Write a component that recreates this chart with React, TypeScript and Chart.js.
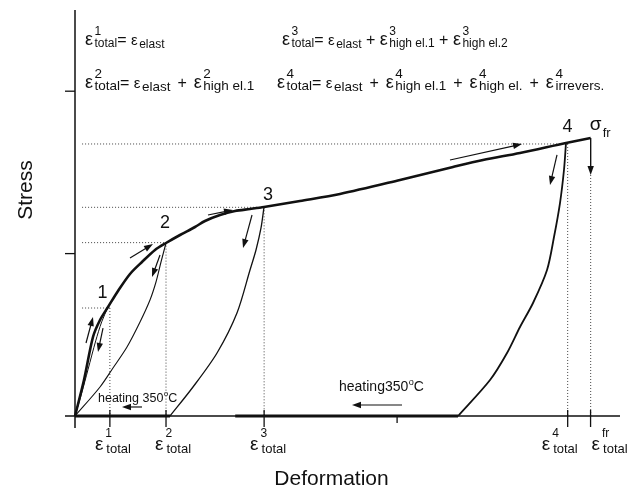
import React, { useEffect, useRef } from "react";
import { Chart, registerables } from "chart.js";
Chart.register(...registerables);

const FONT = '"Liberation Sans", Arial, Helvetica, sans-serif';

// ---------- data (deformation, stress) in arbitrary units 0..100 ----------
const loadingX = [0, 1.65, 3.3, 4.59, 6.06, 7.89, 10.09, 12.29, 14.68, 16.7, 19.27, 22.02, 23.85, 26.61, 29.36, 32.11, 34.68, 41.28, 48.62, 59.63, 69.36, 74.86, 81.65, 90.09, 94.62];
const loadingY = [0, 8.87, 19.46, 23.65, 26.85, 30.79, 34.98, 37.93, 40.89, 42.61, 44.58, 46.55, 48.03, 49.51, 50.49, 50.99, 51.48, 52.96, 54.68, 58.13, 61.33, 63.05, 64.78, 67.24, 68.47];

const unload1X = [6.06, 4.9, 3.8, 2.4, 1.2, 0];
const unload1Y = [26.85, 23.2, 18.5, 11.5, 5.5, 0];
const unload2X = [16.7, 15.78, 14.86, 13.76, 11.93, 9.54, 6.97, 4.59, 0];
const unload2Y = [42.61, 37.93, 33.0, 28.57, 23.15, 16.99, 11.82, 7.14, 0];
const unload3X = [34.68, 34.13, 33.21, 32.11, 29.72, 26.06, 21.65, 17.43];
const unload3Y = [51.48, 46.31, 40.89, 35.96, 25.37, 15.52, 7.14, 0];
const unload4X = [90.09, 89.72, 88.99, 87.89, 86.61, 84.04, 81.65, 79.27, 76.15, 70.28];
const unload4Y = [67.24, 60.59, 52.46, 44.09, 35.96, 27.83, 21.92, 15.52, 8.87, 0];

const heating1X = [0, 17.43];
const heating1Y = [0, 0];
const heating2X = [29.4, 70.28];
const heating2Y = [0, 0];

// reference states 1..4
const stateX = [6.4, 16.7, 34.7, 90.4];
const stateY = [26.6, 42.7, 51.4, 67.0];
const stateLabels = ["1", "2", "3", "4"];
const stateLabelX = [5.05, 16.51, 35.41, 90.37];
const stateLabelY = [29.06, 46.31, 53.2, 69.95];

const fractureX = 94.62;
const fractureY = 68.47;
const fractureArrowEndY = 59.36;

// axis ticks
const xTickValues = [0, 6.4, 16.7, 34.7, 59.1, 90.4, 94.6];
const yTickValues = [40, 80];
const xTickLabelAt = [6.4, 16.7, 34.7, 90.4, 94.6];
const xTickLabelSup = ["1", "2", "3", "4", "fr"];
const xTickLabelSub = ["total", "total", "total", "total", "total"];

// direction arrows
const arrowStartX = [2.02, 5.14, 10.09, 15.6, 24.4, 32.48, 68.81, 88.44, 12.29, 60.0];
const arrowStartY = [17.98, 21.67, 38.92, 39.66, 49.51, 49.51, 63.05, 64.29, 2.22, 2.71];
const arrowEndX = [3.3, 4.22, 14.31, 14.13, 28.99, 30.83, 82.02, 87.16, 8.62, 50.83];
const arrowEndY = [24.38, 15.76, 42.36, 34.24, 50.74, 41.38, 67.0, 56.9, 2.22, 2.71];

// heating annotations
const heatingText = ["heating 350", "heating350"];
const heatingX = [4.22, 48.44];
const heatingY = [3.45, 6.16];

// formulas: [base, sup, sub]
type Tok = [string, string?, string?];
const formulaTopLeft: Tok[] = [["ε", "1", "total"], ["= "], ["ε", "", "elast"]];
const formulaTopRight: Tok[] = [["ε", "3", "total"], ["= "], ["ε", "", "elast"], [" + "], ["ε", "3", "high el.1"], [" + "], ["ε", "3", "high el.2"]];
const formulaBottomLeft: Tok[] = [["ε", "2", "total"], ["= "], ["ε", "", "elast"], [" + "], ["ε", "2", "high el.1"]];
const formulaBottomRight: Tok[] = [["ε", "4", "total"], ["= "], ["ε", "", "elast"], [" + "], ["ε", "4", "high el.1"], [" + "], ["ε", "4", "high el."], [" + "], ["ε", "4", "irrevers."]];

const pts = (xs: number[], ys: number[]) => xs.map((x, i) => ({ x, y: ys[i] }));

type FStyle = { eps: number; small: number; op: number; sub: number; pad: number };

function drawFormula(ctx: CanvasRenderingContext2D, x0: number, y: number, toks: Tok[], st: FStyle) {
  let x = x0;
  for (const [base, sup, sub] of toks) {
    const isEps = base === "ε";
    const size = isEps ? (sub === "elast" ? st.small : st.eps) : st.op;
    ctx.font = `${size}px ${FONT}`;
    if (!isEps && base.trim() === "+") x += st.pad;
    ctx.fillText(base, x, y);
    x += ctx.measureText(base).width;
    if (!isEps && base.trim() === "+") x += st.pad;
    if (sup || sub) {
      ctx.font = `${st.sub}px ${FONT}`;
      const gx = x + 1.5;
      let w = 0;
      if (sup) {
        ctx.fillText(sup, gx, y - 10);
        w = Math.max(w, ctx.measureText(sup).width);
      }
      if (sub) {
        const drop = sub === "elast" ? 3 : 2;
        ctx.fillText(sub, gx, y + drop);
        w = Math.max(w, ctx.measureText(sub).width);
      }
      x = gx + w;
    }
  }
}

function arrow(ctx: CanvasRenderingContext2D, x1: number, y1: number, x2: number, y2: number) {
  const a = Math.atan2(y2 - y1, x2 - x1);
  const hl = 9, hw = 3.2;
  ctx.beginPath();
  ctx.moveTo(x1, y1);
  ctx.lineTo(x2 - Math.cos(a) * hl * 0.8, y2 - Math.sin(a) * hl * 0.8);
  ctx.stroke();
  ctx.beginPath();
  ctx.moveTo(x2, y2);
  ctx.lineTo(x2 - Math.cos(a) * hl - Math.sin(a) * hw, y2 - Math.sin(a) * hl + Math.cos(a) * hw);
  ctx.lineTo(x2 - Math.cos(a) * hl + Math.sin(a) * hw, y2 - Math.sin(a) * hl - Math.cos(a) * hw);
  ctx.closePath();
  ctx.fill();
}

const figurePlugin = {
  id: "figure",
  beforeDatasetsDraw(chart: any) {
    const { ctx, scales } = chart;
    const X = (v: number) => scales.x.getPixelForValue(v);
    const Y = (v: number) => scales.y.getPixelForValue(v);
    ctx.save();
    // dotted reference lines
    ctx.setLineDash([1, 2]);
    ctx.lineWidth = 1;
    ctx.strokeStyle = "#444";
    for (let i = 0; i < stateX.length; i++) {
      ctx.beginPath();
      ctx.moveTo(X(1.3), Y(stateY[i]));
      ctx.lineTo(X(stateX[i]), Y(stateY[i]));
      ctx.moveTo(X(stateX[i]), Y(stateY[i]));
      ctx.lineTo(X(stateX[i]), Y(0));
      ctx.stroke();
    }
    ctx.beginPath();
    ctx.moveTo(X(fractureX), Y(fractureArrowEndY));
    ctx.lineTo(X(fractureX), Y(0));
    ctx.stroke();
    ctx.setLineDash([]);

    // axes
    ctx.strokeStyle = "#111";
    ctx.lineWidth = 1.5;
    ctx.beginPath();
    ctx.moveTo(X(0), Y(100));
    ctx.lineTo(X(0), Y(0) + 12);
    ctx.moveTo(X(0) - 10, Y(0));
    ctx.lineTo(X(100), Y(0));
    ctx.stroke();
    ctx.lineWidth = 1.3;
    for (const t of yTickValues) {
      ctx.beginPath();
      ctx.moveTo(X(0) - 10, Y(t));
      ctx.lineTo(X(0), Y(t));
      ctx.stroke();
    }
    for (const t of xTickValues) {
      if (t === 0) continue;
      const small = !xTickLabelAt.includes(t);
      ctx.beginPath();
      ctx.moveTo(X(t), Y(0) - (small ? 0 : 6));
      ctx.lineTo(X(t), Y(0) + (small ? 7 : 11));
      ctx.stroke();
    }
    ctx.restore();
  },
  afterDatasetsDraw(chart: any) {
    const { ctx, scales, chartArea } = chart;
    const X = (v: number) => scales.x.getPixelForValue(v);
    const Y = (v: number) => scales.y.getPixelForValue(v);
    ctx.save();
    ctx.fillStyle = "#111";
    ctx.strokeStyle = "#111";

    // fracture drop
    ctx.lineWidth = 1.4;
    arrow(ctx, X(fractureX), Y(fractureY), X(fractureX), Y(fractureArrowEndY));
    ctx.lineWidth = 1.2;
    for (let i = 0; i < arrowStartX.length; i++) {
      arrow(ctx, X(arrowStartX[i]), Y(arrowStartY[i]), X(arrowEndX[i]), Y(arrowEndY[i]));
    }

    // state numbers
    ctx.textAlign = "center";
    ctx.textBaseline = "alphabetic";
    ctx.font = `18px ${FONT}`;
    for (let i = 0; i < stateLabels.length; i++) {
      ctx.fillText(stateLabels[i], X(stateLabelX[i]), Y(stateLabelY[i]));
    }
    ctx.textAlign = "left";
    // sigma_fr
    ctx.font = `19px ${FONT}`;
    ctx.fillText("σ", X(fractureX) - 1, Y(fractureY) - 8);
    ctx.font = `13px ${FONT}`;
    ctx.fillText("fr", X(fractureX) + 12, Y(fractureY) - 1);

    // heating labels
    const heatSizes = [12.5, 14];
    for (let i = 0; i < heatingText.length; i++) {
      const s = heatSizes[i];
      let x = X(heatingX[i]);
      const y = Y(heatingY[i]);
      ctx.font = `${s}px ${FONT}`;
      ctx.fillText(heatingText[i], x, y);
      x += ctx.measureText(heatingText[i]).width;
      ctx.font = `${s * 0.65}px ${FONT}`;
      ctx.fillText("o", x + 0.5, y - s * 0.45);
      x += ctx.measureText("o").width + 0.5;
      ctx.font = `${s}px ${FONT}`;
      ctx.fillText("C", x, y);
    }

    // x tick labels
    const epsOffset = [-15, -11, -14, -26, 1];
    const yb = Y(0);
    for (let i = 0; i < xTickLabelAt.length; i++) {
      let x = X(xTickLabelAt[i]) + epsOffset[i];
      ctx.font = `19px ${FONT}`;
      ctx.fillText("ε", x, yb + 34);
      x += ctx.measureText("ε").width + 2;
      ctx.font = `12px ${FONT}`;
      ctx.fillText(xTickLabelSup[i], x, yb + 21);
      ctx.font = `13px ${FONT}`;
      ctx.fillText(xTickLabelSub[i], x + 1, yb + 37);
    }

    // formulas
    const L = chartArea.left, T = chartArea.top;
    const top: FStyle = { eps: 18, small: 15, op: 16, sub: 12, pad: 0 };
    const bottom: FStyle = { eps: 18, small: 15, op: 16, sub: 13.5, pad: 2.5 };
    drawFormula(ctx, L + 10, T + 35, formulaTopLeft, top);
    drawFormula(ctx, L + 207, T + 35, formulaTopRight, top);
    drawFormula(ctx, L + 10, T + 78, formulaBottomLeft, bottom);
    drawFormula(ctx, L + 202, T + 78, formulaBottomRight, bottom);

    // axis titles
    ctx.font = `21px ${FONT}`;
    ctx.textAlign = "center";
    ctx.fillText("Deformation", (chartArea.left + chartArea.right) / 2 - 16, chartArea.bottom + 69);
    ctx.translate(chartArea.left - 43, (chartArea.top + chartArea.bottom) / 2 - 23);
    ctx.rotate(-Math.PI / 2);
    ctx.fillText("Stress", 0, 0);
    ctx.restore();
  },
};

export default function App() {
  const ref = useRef<HTMLCanvasElement | null>(null);
  useEffect(() => {
    if (!ref.current) return;
    const line = (data: any[], w: number) => ({
      data,
      showLine: true,
      borderColor: "#111",
      borderWidth: w,
      pointRadius: 0,
      tension: 0.3,
      fill: false,
      clip: false as any,
    });
    const chart = new Chart(ref.current, {
      type: "scatter",
      data: {
        datasets: [
          line(pts(heating1X, heating1Y), 3),
          line(pts(heating2X, heating2Y), 3),
          line(pts(unload1X, unload1Y), 1),
          line(pts(unload2X, unload2Y), 1.1),
          line(pts(unload3X, unload3Y), 1.3),
          line(pts(unload4X, unload4Y), 1.8),
          line(pts(loadingX, loadingY), 2.6),
        ],
      },
      options: {
        responsive: false,
        animation: false,
        devicePixelRatio: 1,
        events: [],
        layout: { padding: { left: 75, right: 9, top: 10, bottom: 75 } },
        scales: {
          x: { type: "linear", min: 0, max: 100, display: false },
          y: { type: "linear", min: 0, max: 100, display: false },
        },
        plugins: { legend: { display: false }, tooltip: { enabled: false } },
      },
      plugins: [figurePlugin],
    });
    return () => chart.destroy();
  }, []);
  return (
    <div style={{ position: "absolute", left: 0, top: 0, width: 629, height: 491, background: "#fff" }}>
      <canvas ref={ref} width={629} height={491} style={{ display: "block" }} />
    </div>
  );
}
